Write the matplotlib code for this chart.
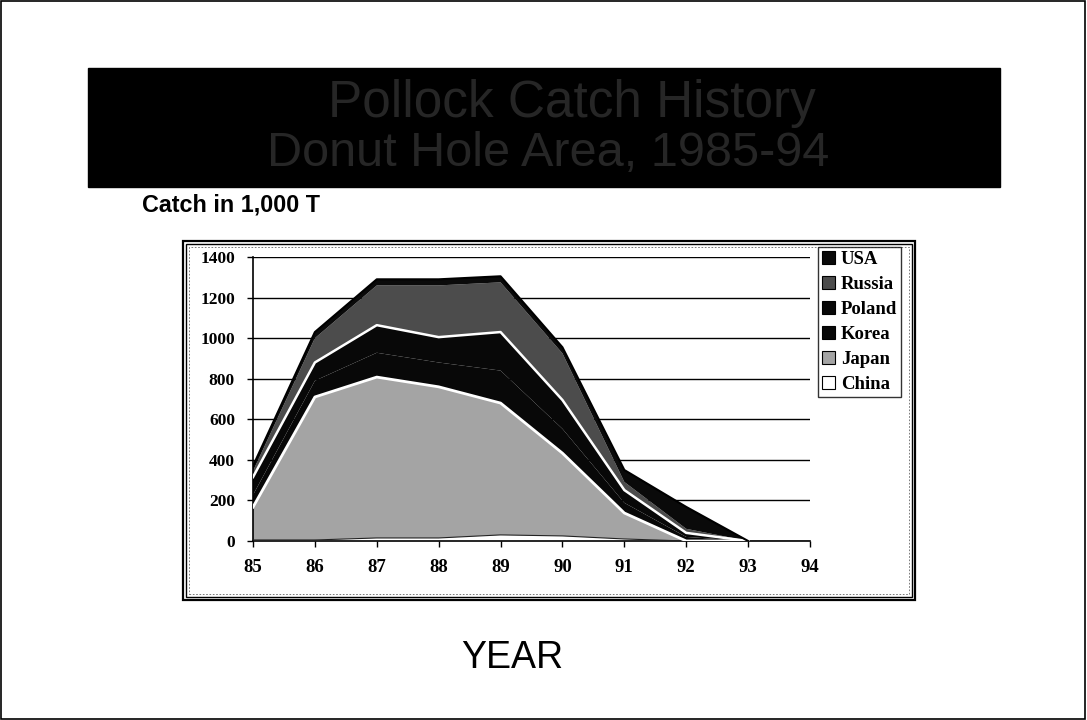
import matplotlib
matplotlib.use("Agg")
import matplotlib.pyplot as plt
from matplotlib.patches import Rectangle, Patch
import numpy as np

# pollock catch in 1,000 t by nation, 1985-93
years = [85, 86, 87, 88, 89, 90, 91, 92, 93]
china = [5, 5, 15, 15, 30, 25, 10, 0, 0]
japan = [162, 705, 793, 745, 650, 408, 128, 0, 0]
korea = [60, 80, 120, 120, 160, 120, 50, 20, 0]
poland = [88, 90, 136, 125, 190, 142, 63, 20, 0]
russia = [30, 120, 196, 255, 245, 230, 40, 20, 0]
usa = [25, 30, 30, 30, 30, 30, 59, 108, 0]

names = ["China", "Japan", "Korea", "Poland", "Russia", "USA"]
colors = ["white", "#a4a4a4", "#080808", "#080808", "#4c4c4c", "#0a0a0a"]

W, H = 1087, 720
fig = plt.figure(figsize=(W / 100, H / 100), dpi=100)
fig.patch.set_facecolor("white")


def box(x0, y0, x1, y1, **kw):
    # rectangle given in pixel coords (origin top-left)
    r = Rectangle((x0 / W, 1 - y1 / H), (x1 - x0) / W, (y1 - y0) / H,
                  transform=fig.transFigure, **kw)
    fig.patches.append(r)


# page frame
box(1, 1, W - 2, H - 1, fill=False, lw=1.2, ec="black")

# black title banner
box(88, 68, 1000, 187, fc="black", ec="black")
fig.text(572 / W, 1 - 103 / H, "Pollock Catch History", ha="center", va="center",
         fontsize=37, color="#262626", family="Liberation Sans")
fig.text(548 / W, 1 - 153 / H, "Donut Hole Area, 1985-94", ha="center", va="center",
         fontsize=35, color="#262626", family="Liberation Sans")

fig.text(142 / W, 1 - 205 / H, "Catch in 1,000 T", ha="left", va="center",
         fontsize=16.8, fontweight="bold", family="Liberation Sans")

# double chart frame with dotted inner border
box(183, 241, 915, 600, fill=False, lw=1.6, ec="black")
box(186, 244, 912, 597, fill=False, lw=1.0, ec="black")
box(189, 247, 909, 594, fill=False, lw=0.6, ec="#666666", ls=(0, (2, 2)))

ax = fig.add_axes([253 / W, 1 - 541 / H, (810 - 253) / W, (541 - 257) / H])
ax.set_facecolor("white")

data = np.vstack([china, japan, korea, poland, russia, usa])
ax.stackplot(years, data, colors=colors, linewidth=0, zorder=2)

cum = np.cumsum(data, axis=0)
ax.plot(years, cum[0], color="#222222", lw=0.8, zorder=3)
ax.plot(years, cum[1], color="white", lw=2.0, zorder=3)
ax.plot(years, cum[3], color="white", lw=1.8, zorder=3)
ax.plot(years, cum[5], color="black", lw=1.5, zorder=3)

ax.set_xlim(85, 94)
ax.set_ylim(0, 1400)
ax.set_xticks(range(85, 95))
ax.set_yticks(range(0, 1401, 200))
ax.yaxis.grid(True, color="black", lw=1.0, zorder=1)
ax.set_axisbelow(True)

for side in ["top", "right"]:
    ax.spines[side].set_visible(False)
ax.spines["left"].set_linewidth(1.2)
ax.spines["bottom"].set_linewidth(1.2)
ax.tick_params(axis="x", direction="out", length=4, width=1, pad=9)
ax.tick_params(axis="y", direction="out", length=4, width=1, pad=9)
for lab in ax.get_xticklabels():
    lab.set_fontfamily("Liberation Serif")
    lab.set_fontweight("bold")
    lab.set_fontsize(13.5)
for lab in ax.get_yticklabels():
    lab.set_fontfamily("Liberation Serif")
    lab.set_fontweight("bold")
    lab.set_fontsize(12.5)

handles = [Patch(fc=c, ec="black", lw=0.8) for c in colors][::-1]
leg = fig.legend(handles, names[::-1], loc="upper left",
                 bbox_to_anchor=(818 / W, 1 - 247 / H), frameon=True, fancybox=False,
                 edgecolor="black", handlelength=0.7, handleheight=0.7,
                 handletextpad=0.3, labelspacing=0.42, borderpad=0.22,
                 borderaxespad=0,
                 prop={"family": "Liberation Serif", "weight": "bold", "size": 13.5})
leg.get_frame().set_linewidth(1.0)

fig.text(512 / W, 1 - 658 / H, "YEAR", ha="center", va="center", fontsize=27,
         family="Liberation Sans")

fig.savefig("out.png", dpi=100)
